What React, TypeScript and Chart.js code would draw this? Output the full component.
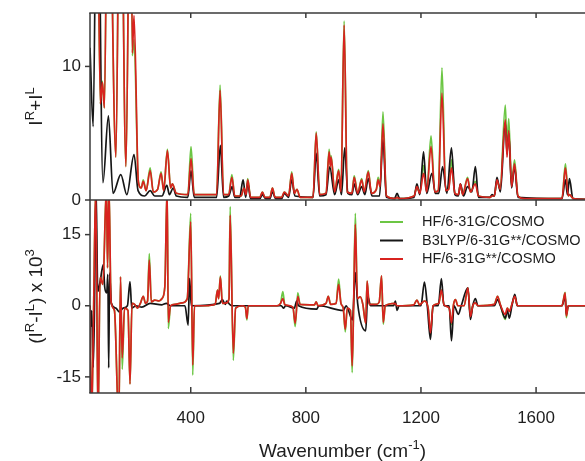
import React, { useEffect, useRef } from 'react';
import { Chart, registerables } from 'chart.js';

Chart.register(...registerables);

type Pt = [number, number];
type Part = { t: string; sup?: boolean };

// ---------------- data ----------------
const xRange = [50, 1770];
const xTicks = [400, 800, 1200, 1600];
const topYRange = [0, 14];
const topYTicks = [0, 10];
const bottomYRange = [-18.4, 22.3];
const bottomYTicks = [-15, 0, 15];
const seriesLabels = ['HF/6-31G/COSMO', 'B3LYP/6-31G**/COSMO', 'HF/6-31G**/COSMO'];

// top panel: I(R)+I(L)
const topGreen: Pt[] = [
  [50, 20], [72, 30], [86, 7.2], [93, 8.9], [100, 6.9], [113, 30], [140, 3.2], [155, 30], [175, 2.5], [191, 30],
  [197, 10.8], [203, 12], [218, 1.4], [228, 0.9], [235, 1.5], [245, 0.7], [259, 2.4], [270, 0.6], [285, 0.8], [297, 2.1],
  [306, 0.7], [319, 3.8], [330, 0.9], [336, 1.2], [350, 0.5], [390, 0.4], [401, 4.0], [412, 0.4], [490, 0.4], [502, 8.6],
  [514, 0.4], [532, 0.4], [543, 1.9], [553, 0.3], [575, 0.3], [585, 0.9], [592, 0.4], [598, 1.6], [608, 0.2], [640, 0.2],
  [649, 0.6], [658, 0.2], [675, 0.2], [684, 0.9], [693, 0.2], [716, 0.2], [725, 0.6], [740, 0.3], [751, 2.1], [760, 0.5],
  [769, 0.8], [780, 0.2], [825, 0.2], [836, 5.1], [848, 0.4], [870, 0.5], [881, 3.8], [885, 2.6], [888, 3.3], [900, 0.6],
  [914, 2.3], [922, 0.6], [933, 13.4], [944, 0.6], [960, 0.5], [968, 1.8], [980, 0.5], [994, 1.6], [1003, 0.6], [1017, 2.2],
  [1028, 0.5], [1045, 0.8], [1051, 1.7], [1058, 1.0], [1068, 6.6], [1080, 0.3], [1110, 0.1], [1117, 0.2], [1125, 0.1], [1176, 0.3],
  [1186, 1.0], [1196, 0.5], [1209, 2.6], [1220, 0.6], [1235, 4.8], [1248, 0.6], [1260, 0.7], [1273, 9.9], [1286, 0.7], [1296, 0.8],
  [1306, 3.0], [1318, 0.5], [1330, 0.4], [1337, 1.2], [1345, 0.4], [1362, 1.7], [1372, 0.6], [1389, 1.4], [1400, 0.3], [1440, 0.2],
  [1447, 0.3], [1455, 0.3], [1464, 1.5], [1475, 0.8], [1493, 7.1], [1499, 4.0], [1505, 6.1], [1515, 1.0], [1525, 3.0], [1537, 0.3],
  [1560, 0.1], [1690, 0.1], [1702, 2.7], [1712, 0.3], [1716, 0.4], [1730, 0.1], [1770, 0.05],
];

const topBlack: Pt[] = [
  [50, 11.4], [61, 5.5], [75, 30], [95, 1.3], [114, 6.3], [130, 0.5], [157, 1.9], [178, 0.4], [203, 3.4], [217, 0.7],
  [240, 0.3], [259, 0.7], [275, 0.3], [300, 0.3], [317, 1.1], [326, 0.4], [339, 0.9], [350, 0.3], [390, 0.2], [401, 2.2],
  [412, 0.2], [490, 0.2], [503, 4.1], [514, 0.2], [532, 0.3], [544, 1.0], [553, 0.2], [570, 0.2], [582, 1.5], [591, 0.2],
  [598, 1.3], [608, 0.1], [640, 0.1], [649, 0.4], [660, 0.1], [675, 0.1], [684, 0.6], [695, 0.1], [716, 0.1], [725, 0.5],
  [740, 0.2], [751, 1.5], [762, 0.3], [825, 0.2], [836, 3.5], [848, 0.3], [870, 0.4], [883, 2.5], [900, 0.4], [914, 1.5],
  [924, 0.4], [935, 3.9], [946, 0.5], [960, 0.4], [968, 1.2], [980, 0.4], [994, 1.0], [1005, 0.4], [1017, 1.6], [1030, 0.3],
  [1056, 0.3], [1068, 4.5], [1080, 0.2], [1108, 0.1], [1117, 0.5], [1126, 0.1], [1176, 0.2], [1186, 1.2], [1196, 0.4], [1209, 3.6],
  [1220, 0.5], [1238, 2.0], [1250, 0.5], [1262, 0.5], [1275, 2.5], [1290, 0.5], [1306, 3.9], [1318, 0.4], [1330, 0.3], [1337, 1.2],
  [1348, 0.3], [1362, 1.0], [1377, 0.6], [1389, 2.5], [1400, 0.2], [1440, 0.2], [1447, 0.4], [1455, 0.3], [1464, 1.7], [1476, 0.6],
  [1493, 5.8], [1499, 3.5], [1505, 5.0], [1515, 0.9], [1525, 2.5], [1537, 0.2], [1690, 0.1], [1702, 1.5], [1709, 0.4], [1716, 1.6],
  [1728, 0.1], [1770, 0.05],
];

const topRed: Pt[] = [
  [50, 20], [72, 30], [86, 7.2], [93, 8.8], [100, 6.9], [113, 30], [140, 3.2], [155, 30], [175, 2.5], [191, 30],
  [197, 11], [203, 13.8], [218, 1.4], [228, 0.9], [235, 1.4], [245, 0.7], [259, 2.2], [270, 0.6], [285, 0.8], [297, 2.0],
  [306, 0.7], [319, 3.7], [330, 0.9], [336, 1.2], [350, 0.5], [390, 0.4], [401, 3.1], [412, 0.4], [490, 0.4], [502, 8.2],
  [514, 0.4], [532, 0.4], [543, 1.7], [553, 0.3], [575, 0.3], [585, 0.9], [592, 0.4], [598, 1.5], [608, 0.2], [640, 0.2],
  [649, 0.6], [658, 0.2], [675, 0.2], [684, 0.9], [693, 0.2], [716, 0.2], [725, 0.6], [740, 0.3], [751, 2.0], [760, 0.5],
  [769, 0.8], [780, 0.2], [825, 0.2], [836, 5.0], [848, 0.4], [870, 0.5], [881, 3.6], [885, 2.5], [888, 3.2], [900, 0.6],
  [914, 2.2], [922, 0.6], [933, 13.1], [944, 0.6], [960, 0.5], [968, 1.7], [980, 0.5], [994, 1.5], [1003, 0.6], [1017, 2.1],
  [1028, 0.5], [1045, 0.8], [1051, 1.5], [1058, 1.0], [1068, 5.7], [1080, 0.3], [1110, 0.1], [1117, 0.2], [1125, 0.1], [1176, 0.3],
  [1186, 1.0], [1196, 0.5], [1209, 2.0], [1220, 0.6], [1235, 4.0], [1248, 0.6], [1260, 0.7], [1273, 8.0], [1286, 0.7], [1296, 0.8],
  [1306, 2.4], [1318, 0.5], [1330, 0.4], [1337, 1.2], [1345, 0.4], [1362, 1.6], [1372, 0.6], [1389, 1.2], [1400, 0.3], [1440, 0.2],
  [1447, 0.3], [1455, 0.3], [1464, 1.5], [1475, 0.8], [1493, 6.0], [1499, 3.2], [1505, 5.2], [1515, 1.0], [1525, 2.7], [1537, 0.3],
  [1560, 0.1], [1690, 0.1], [1702, 2.4], [1712, 0.3], [1716, 0.4], [1730, 0.1], [1770, 0.05],
];

// bottom panel: (I(R)-I(L)) x 10^3
const bottomGreen: Pt[] = [
  [50, 0], [55, -25], [62, -3], [70, 25], [78, -25], [85, 6], [95, 4.5], [107, 25], [111, 8], [116, 25],
  [123, 1], [135, -1], [150, -25], [156, 6.1], [162, -13.4], [170, -0.5], [182, -1], [189, -16.5], [196, 0.5], [205, 0.3],
  [215, -0.5], [225, 0.5], [235, 2.0], [243, 0.5], [250, 1.0], [256, 11.0], [263, 0.8], [275, 1.2], [290, 1.0], [300, 1.5],
  [310, 4.0], [318, 25], [322, -4.8], [330, 0], [345, 0.3], [370, 0.6], [388, 1.5], [400, 19.5], [407, -14.6], [413, 0],
  [450, 0], [485, 0.3], [493, 3.3], [497, 1.5], [503, 6.3], [510, 0.5], [525, 0.6], [533, 1.5], [537, 20.9], [548, -11.5],
  [556, -0.5], [580, 0], [590, -0.3], [595, -3.0], [600, 0], [700, 0], [712, 0.5], [720, 3.0], [727, 0.2], [755, -0.3],
  [763, -4.4], [772, 2.7], [780, 0.3], [830, 0.2], [836, 0.8], [842, 0], [870, 0.5], [878, 2.0], [886, 0.3], [905, 0.5],
  [914, 5.6], [922, 0.5], [930, -0.5], [937, -5.5], [944, -0.5], [955, -1], [961, -14.1], [966, 0], [972, 19.5], [979, 1.5],
  [989, 1.9], [998, 0.3], [1008, -3.7], [1013, 5.2], [1020, 0.3], [1045, 0.3], [1055, 0.8], [1063, 6.3], [1069, -3.9], [1076, 0],
  [1110, 0.5], [1117, 0], [1175, 0.2], [1186, 1.2], [1195, 0.2], [1212, 1.0], [1225, -0.5], [1233, -6.2], [1242, 0], [1262, 0.5],
  [1271, 3.3], [1280, 0.2], [1298, -0.5], [1306, -4.0], [1313, 0.2], [1320, 1.3], [1328, 0], [1350, 0], [1363, 3.8], [1372, -2.3],
  [1380, 0], [1389, 0.6], [1398, 0], [1455, 0.3], [1466, 2.0], [1476, 0.2], [1493, -2.9], [1500, -0.5], [1507, -1.2], [1516, 0.3],
  [1526, 2.0], [1535, 0], [1690, 0], [1701, 2.8], [1705, -2.5], [1712, 0], [1770, 0],
];

const bottomBlack: Pt[] = [
  [50, 0], [53, -4.4], [56, -1], [61, -13], [65, -3], [71, 25], [77, 3], [85, 5], [96, 8.7], [101, 4],
  [108, 2.7], [112, 6.6], [115, -13.1], [118, 6.9], [124, 0.5], [140, -0.5], [152, -1.3], [165, -0.5], [180, 0], [189, 5.1],
  [195, -0.5], [210, 0], [230, -0.3], [259, 0.5], [300, 0.2], [315, 0.5], [330, 0], [380, 0], [391, -4.1], [396, 5.8],
  [402, 0], [500, 0.5], [510, 1.3], [520, 0.3], [525, 1.0], [535, 0.3], [545, 0], [600, 0], [715, 0], [722, -0.5],
  [730, 0], [760, -0.5], [768, 1.0], [775, 0], [838, -0.7], [845, 0], [930, -1.0], [940, 0], [962, -3], [972, 7.0],
  [980, 0.5], [1008, -5.3], [1015, 2.0], [1025, 0], [1105, 0], [1111, 1.0], [1117, -1.0], [1124, 0], [1200, 0], [1212, 5.0],
  [1222, 0], [1233, -7.1], [1242, 0], [1260, 0], [1271, 5.7], [1280, 0], [1298, 0], [1306, -7.4], [1315, 0], [1330, -1.8],
  [1340, 0], [1363, 3.8], [1372, -2.9], [1380, 0], [1389, 1.5], [1398, 0], [1455, 0], [1466, 1.3], [1476, 0], [1493, -2.6],
  [1500, -1.0], [1507, -2.6], [1516, 0], [1526, 2.4], [1535, 0], [1690, 0], [1701, 2.0], [1705, -1.8], [1712, 0], [1770, 0],
];

const bottomRed: Pt[] = [
  [50, 0], [55, -25], [62, -3], [70, 25], [78, -25], [85, 6], [95, 4.5], [107, 25], [111, 8], [116, 25],
  [123, 1], [135, -1], [150, -25], [156, 6.1], [162, -11], [170, -0.5], [182, -1], [189, -16.5], [196, 0.5], [205, 0.3],
  [215, -0.5], [225, 0.5], [235, 2.0], [243, 0.5], [250, 1.0], [256, 9.6], [263, 0.8], [275, 1.2], [290, 1.0], [300, 1.5],
  [310, 4.0], [318, 25], [322, -3.5], [330, 0], [345, 0.3], [370, 0.6], [388, 1.5], [400, 17.7], [407, -12.5], [413, 0],
  [450, 0], [485, 0.3], [493, 3.3], [497, 1.5], [503, 6.1], [510, 0.5], [525, 0.6], [533, 1.5], [537, 19.1], [548, -10],
  [556, -0.5], [580, 0], [590, -0.3], [595, -2.7], [600, 0], [700, 0], [712, 0.5], [720, 1.5], [727, 0.2], [755, -0.3],
  [763, -3.7], [772, 2.0], [780, 0.3], [830, 0.2], [836, 0.8], [842, 0], [870, 0.5], [878, 2.0], [886, 0.3], [905, 0.5],
  [914, 4.5], [922, 0.5], [930, -0.5], [937, -5.0], [944, -0.5], [955, -1], [961, -12.7], [966, 0], [972, 17.2], [979, 1.5],
  [989, 1.9], [998, 0.3], [1008, -3.7], [1013, 5.2], [1020, 0.3], [1045, 0.3], [1055, 0.8], [1063, 6.3], [1069, -3.5], [1076, 0],
  [1110, 0.5], [1117, 0], [1175, 0.2], [1186, 1.2], [1195, 0.2], [1212, 1.0], [1225, -0.5], [1233, -5.7], [1242, 0], [1262, 0.5],
  [1271, 3.3], [1280, 0.2], [1298, -0.5], [1306, -3.6], [1313, 0.2], [1320, 1.3], [1328, 0], [1350, 0], [1363, 3.8], [1372, -2.3],
  [1380, 0], [1389, 0.6], [1398, 0], [1455, 0.3], [1466, 2.0], [1476, 0.2], [1493, -1.8], [1500, -0.5], [1507, -1.2], [1516, 0.3],
  [1526, 2.0], [1535, 0], [1690, 0], [1701, 2.7], [1705, -2.2], [1712, 0], [1770, 0],
];

const topTitle: Part[] = [{ t: 'I' }, { t: 'R', sup: true }, { t: '+I' }, { t: 'L', sup: true }];
const bottomTitle: Part[] = [
  { t: '(I' }, { t: 'R', sup: true }, { t: '-I' }, { t: 'L', sup: true }, { t: ') x 10' }, { t: '3', sup: true },
];
const xTitle: Part[] = [{ t: 'Wavenumber (cm' }, { t: '-1', sup: true }, { t: ')' }];

// ---------------- styling ----------------
const FONT = '"Liberation Sans", Arial, sans-serif';
const AXIS = '#3a3a3a';
const TEXT = '#1e1e1e';
const COLORS = ['#6cc644', '#161616', '#d8231f'];
const DRAW_ORDER = [3, 2, 1];

function drawRich(ctx: CanvasRenderingContext2D, parts: Part[], size: number, x: number, y: number, rotate: boolean) {
  ctx.save();
  ctx.translate(x, y);
  if (rotate) ctx.rotate(-Math.PI / 2);
  const supSize = Math.round(size * 0.68);
  ctx.textAlign = 'left';
  ctx.textBaseline = 'alphabetic';
  let total = 0;
  const widths = parts.map((p) => {
    ctx.font = `${p.sup ? supSize : size}px ${FONT}`;
    const w = ctx.measureText(p.t).width;
    total += w;
    return w;
  });
  let cx = -total / 2;
  parts.forEach((p, i) => {
    ctx.font = `${p.sup ? supSize : size}px ${FONT}`;
    ctx.fillText(p.t, cx, p.sup ? -size * 0.42 : 0);
    cx += widths[i];
  });
  ctx.restore();
}

interface PanelCfg {
  yTicks: number[];
  yTitle: Part[];
  topBorder: boolean;
  bottomTickDir: number;
  xLabels: boolean;
  legend: boolean;
}

function makePanelPlugin(cfg: PanelCfg) {
  return {
    id: 'panelFrame',
    afterDraw(chart: any) {
      const ctx: CanvasRenderingContext2D = chart.ctx;
      const a = chart.chartArea;
      const xs = chart.scales.x;
      const ys = chart.scales.y;
      ctx.save();
      ctx.strokeStyle = AXIS;
      ctx.lineWidth = 1.5;
      const seg = (x1: number, y1: number, x2: number, y2: number) => {
        ctx.beginPath();
        ctx.moveTo(x1, y1);
        ctx.lineTo(x2, y2);
        ctx.stroke();
      };
      seg(a.left, a.top, a.left, a.bottom);
      seg(a.left - 0.75, a.bottom, a.right, a.bottom);
      if (cfg.topBorder) {
        seg(a.left - 0.75, a.top, a.right, a.top);
        xTicks.forEach((v) => {
          const px = xs.getPixelForValue(v);
          seg(px, a.top, px, a.top + 5);
        });
      }
      xTicks.forEach((v) => {
        const px = xs.getPixelForValue(v);
        seg(px, a.bottom, px, a.bottom + 6 * cfg.bottomTickDir);
      });
      ctx.fillStyle = TEXT;
      ctx.font = `17px ${FONT}`;
      ctx.textAlign = 'right';
      ctx.textBaseline = 'middle';
      cfg.yTicks.forEach((v) => {
        const py = ys.getPixelForValue(v);
        seg(a.left - 5, py, a.left, py);
        ctx.fillText(String(v), a.left - 9, py);
      });
      if (cfg.xLabels) {
        ctx.textAlign = 'center';
        xTicks.forEach((v) => {
          ctx.fillText(String(v), xs.getPixelForValue(v), a.bottom + 25);
        });
        drawRich(ctx, xTitle, 19, (a.left + a.right) / 2 + 5, a.bottom + 64, false);
      }
      drawRich(ctx, cfg.yTitle, 19, a.left - 48, (a.top + a.bottom) / 2, true);
      if (cfg.legend) {
        ctx.font = `14.5px ${FONT}`;
        ctx.textAlign = 'left';
        ctx.textBaseline = 'middle';
        chart.data.datasets.forEach((ds: any, i: number) => {
          const yy = a.top + 22 + i * 18.5;
          ctx.strokeStyle = ds.borderColor;
          ctx.lineWidth = 2;
          seg(380, yy, 403, yy);
          ctx.fillStyle = TEXT;
          ctx.fillText(ds.label, 422, yy);
        });
      }
      ctx.restore();
    },
  };
}

function buildDatasets(series: Pt[][]) {
  return series.map((s, i) => ({
    label: seriesLabels[i],
    data: s.map(([x, y]) => ({ x, y })),
    borderColor: COLORS[i],
    borderWidth: 1.7,
    pointRadius: 0,
    fill: false,
    cubicInterpolationMode: 'monotone',
    order: DRAW_ORDER[i],
    clip: 0,
  }));
}

function baseOptions(yRange: number[], padding: any) {
  return {
    animation: false as const,
    responsive: false,
    events: [] as any[],
    layout: { padding },
    scales: {
      x: { type: 'linear' as const, min: xRange[0], max: xRange[1], display: false },
      y: { type: 'linear' as const, min: yRange[0], max: yRange[1], display: false },
    },
    plugins: { legend: { display: false }, tooltip: { enabled: false } },
  };
}

export default function App() {
  const topRef = useRef<HTMLCanvasElement>(null);
  const botRef = useRef<HTMLCanvasElement>(null);

  useEffect(() => {
    const top = new Chart(topRef.current as HTMLCanvasElement, {
      type: 'line',
      data: { datasets: buildDatasets([topGreen, topBlack, topRed]) as any },
      options: baseOptions(topYRange, { left: 90, top: 13, right: 0, bottom: 12 }) as any,
      plugins: [
        makePanelPlugin({ yTicks: topYTicks, yTitle: topTitle, topBorder: true, bottomTickDir: 1, xLabels: false, legend: false }),
      ],
    });
    const bottom = new Chart(botRef.current as HTMLCanvasElement, {
      type: 'line',
      data: { datasets: buildDatasets([bottomGreen, bottomBlack, bottomRed]) as any },
      options: baseOptions(bottomYRange, { left: 90, top: 5, right: 0, bottom: 68 }) as any,
      plugins: [
        makePanelPlugin({ yTicks: bottomYTicks, yTitle: bottomTitle, topBorder: false, bottomTickDir: -1, xLabels: true, legend: true }),
      ],
    });
    return () => {
      top.destroy();
      bottom.destroy();
    };
  }, []);

  return (
    <div style={{ position: 'absolute', left: 0, top: 0, width: 585, height: 461, background: '#fff', overflow: 'hidden' }}>
      <canvas ref={botRef} width={585} height={266} style={{ position: 'absolute', left: 0, top: 195, width: 585, height: 266 }} />
      <canvas ref={topRef} width={585} height={212} style={{ position: 'absolute', left: 0, top: 0, width: 585, height: 212 }} />
    </div>
  );
}
